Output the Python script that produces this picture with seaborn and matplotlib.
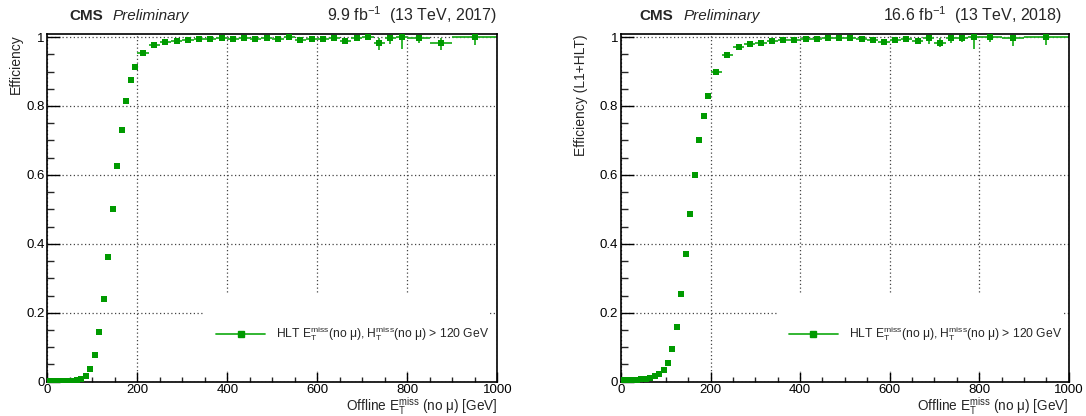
import numpy as np
import pandas as pd
import matplotlib
matplotlib.use("Agg")
import matplotlib.pyplot as plt
from matplotlib.patches import Rectangle
from matplotlib.lines import Line2D
from matplotlib.ticker import MultipleLocator, FuncFormatter
import seaborn as sns

# ---------------- data ----------------
bin_edges = [0, 10, 20, 30, 40, 50, 60, 70, 80, 90, 100, 110, 120, 130, 140, 150,
             160, 170, 180, 190, 200, 225, 250, 275, 300, 325, 350, 375, 400, 425,
             450, 475, 500, 525, 550, 575, 600, 625, 650, 675, 700, 725, 750, 775,
             800, 850, 900, 1000]

eff_2017 = [0.001, 0.001, 0.001, 0.001, 0.002, 0.002, 0.004, 0.008, 0.017, 0.038,
            0.077, 0.144, 0.241, 0.363, 0.501, 0.626, 0.730, 0.814, 0.874, 0.913,
            0.954,
            0.977, 0.985, 0.990, 0.992, 0.994, 0.995, 0.996, 0.993, 0.998, 0.994,
            0.997, 0.993, 0.999, 0.992, 0.994, 0.994, 0.998, 0.990, 0.997, 0.999,
            0.983, 0.998, 0.999,
            0.998, 0.983, 0.999]
errlo_2017 = [0.001, 0.001, 0.001, 0.001, 0.001, 0.001, 0.001, 0.001, 0.002, 0.003,
              0.004, 0.004, 0.005, 0.005, 0.005, 0.005, 0.005, 0.005, 0.004, 0.004,
              0.004,
              0.005, 0.004, 0.004, 0.004, 0.004, 0.004, 0.005, 0.006, 0.004, 0.006,
              0.005, 0.007, 0.004, 0.008, 0.007, 0.008, 0.006, 0.010, 0.008, 0.008,
              0.020, 0.017, 0.035,
              0.014, 0.020, 0.021]
errhi_2017 = [0.001, 0.001, 0.001, 0.001, 0.001, 0.001, 0.001, 0.001, 0.002, 0.003,
              0.004, 0.004, 0.005, 0.005, 0.005, 0.005, 0.005, 0.005, 0.004, 0.004,
              0.004,
              0.004, 0.004, 0.003, 0.003, 0.003, 0.003, 0.003, 0.004, 0.002, 0.004,
              0.003, 0.005, 0.001, 0.006, 0.005, 0.005, 0.002, 0.007, 0.003, 0.001,
              0.015, 0.002, 0.001,
              0.002, 0.015, 0.001]

eff_2018 = [0.005, 0.005, 0.006, 0.006, 0.007, 0.009, 0.012, 0.016, 0.023, 0.034,
            0.055, 0.094, 0.159, 0.255, 0.371, 0.488, 0.601, 0.700, 0.771, 0.830,
            0.898,
            0.948, 0.970, 0.981, 0.984, 0.988, 0.991, 0.991, 0.993, 0.994, 0.996,
            0.997, 0.996, 0.995, 0.991, 0.987, 0.991, 0.993, 0.989, 0.998, 0.984,
            0.998, 0.998, 0.999,
            0.999, 0.998, 0.999]
errlo_2018 = [0.001, 0.001, 0.001, 0.001, 0.001, 0.001, 0.001, 0.002, 0.002, 0.003,
              0.003, 0.004, 0.004, 0.005, 0.005, 0.005, 0.005, 0.005, 0.004, 0.004,
              0.004,
              0.005, 0.004, 0.004, 0.004, 0.004, 0.004, 0.004, 0.005, 0.005, 0.005,
              0.005, 0.005, 0.006, 0.007, 0.008, 0.008, 0.008, 0.009, 0.018, 0.012,
              0.015, 0.012, 0.035,
              0.014, 0.023, 0.023]
errhi_2018 = [0.001, 0.001, 0.001, 0.001, 0.001, 0.001, 0.001, 0.002, 0.002, 0.003,
              0.003, 0.004, 0.004, 0.005, 0.005, 0.005, 0.005, 0.005, 0.004, 0.004,
              0.004,
              0.005, 0.004, 0.004, 0.004, 0.004, 0.003, 0.003, 0.003, 0.003, 0.003,
              0.002, 0.003, 0.003, 0.005, 0.006, 0.005, 0.004, 0.006, 0.002, 0.012,
              0.002, 0.002, 0.001,
              0.001, 0.002, 0.001]

panels = [
    dict(eff=eff_2017, lo=errlo_2017, hi=errhi_2017, lumi="9.9 fb$^{-1}$  (13 TeV, 2017)",
         ylabel="Efficiency", rect=[0.04355, 0.08245, 0.41436, 0.8351],
         cms_x=0.048, pre_x=0.145, lumi_x=1.0, ylab_x=-0.054),
    dict(eff=eff_2018, lo=errlo_2018, hi=errhi_2018, lumi="16.6 fb$^{-1}$  (13 TeV, 2018)",
         ylabel="Efficiency (L1+HLT)", rect=[0.57182, 0.08245, 0.41225, 0.8351],
         cms_x=0.042, pre_x=0.139, lumi_x=0.985, ylab_x=-0.073),
]

legend_label = "HLT E$_{\\mathrm{T}}^{\\mathrm{miss}}$(no \u03bc), H$_{\\mathrm{T}}^{\\mathrm{miss}}$(no \u03bc) > 120 GeV"
xlabel = "Offline E$_{\\mathrm{T}}^{\\mathrm{miss}}$ (no \u03bc) [GeV]"

marker_color = "#009a00"
line_color = "#22b022"

# ---------------- style ----------------
sns.set_theme(style="ticks")
plt.rcParams["font.family"] = ["Liberation Sans", "DejaVu Sans"]
plt.rcParams["mathtext.fontset"] = "custom"
plt.rcParams["mathtext.rm"] = "Liberation Sans"
plt.rcParams["mathtext.it"] = "Liberation Sans:italic"
plt.rcParams["mathtext.bf"] = "Liberation Sans:bold"

fig = plt.figure(figsize=(10.86, 4.16), dpi=100)

edges = np.array(bin_edges, dtype=float)
centers = (edges[:-1] + edges[1:]) / 2
halfw = np.diff(edges) / 2

for p in panels:
    ax = fig.add_axes(p["rect"])
    df = pd.DataFrame({"x": centers, "eff": p["eff"], "lo": p["lo"], "hi": p["hi"], "xw": halfw})

    ax.errorbar(df["x"], df["eff"], xerr=df["xw"], yerr=[df["lo"], df["hi"]],
                fmt="none", ecolor=line_color, elinewidth=1.3, capsize=0, zorder=2)
    sns.scatterplot(data=df, x="x", y="eff", marker="s", color=marker_color, s=20,
                    edgecolor=marker_color, linewidth=0, ax=ax, legend=False, zorder=3)

    ax.set_xlim(0, 1000)
    ax.set_ylim(0, 1.008)
    ax.xaxis.set_major_locator(MultipleLocator(200))
    ax.xaxis.set_minor_locator(MultipleLocator(50))
    ax.yaxis.set_major_locator(MultipleLocator(0.2))
    ax.yaxis.set_minor_locator(MultipleLocator(0.05))
    ax.yaxis.set_major_formatter(FuncFormatter(lambda v, pos: "%g" % round(v, 2)))
    ax.tick_params(axis="x", which="major", direction="in", length=7, width=1.0,
                   labelsize=9.5, pad=2, colors="black")
    ax.tick_params(axis="x", which="minor", direction="in", length=3.6, width=1.0)
    ax.tick_params(axis="y", which="major", direction="in", length=9.5, width=1.0,
                   labelsize=9.5, pad=2, colors="black")
    ax.tick_params(axis="y", which="minor", direction="in", length=4.7, width=1.0)
    for s in ax.spines.values():
        s.set_visible(True)
        s.set_linewidth(1.2)
        s.set_color("black")

    ax.set_axisbelow(True)
    ax.grid(True, which="major", linestyle=(0, (1, 2)), color="#444444", linewidth=0.9)

    # white legend box hiding grid lines (TLegend fill)
    ax.add_patch(Rectangle((0.35, 0.03), 0.634, 0.224, transform=ax.transAxes,
                           facecolor="white", edgecolor="none", zorder=1))

    handle = Line2D([], [], color=line_color, lw=1.3, marker="s", markersize=4.5,
                    markerfacecolor=marker_color, markeredgecolor=marker_color)
    ax.legend([handle], [legend_label], loc="center left", bbox_to_anchor=(0.376, 0.137),
              frameon=False, fontsize=8.7, handlelength=4.0, handletextpad=0.95,
              borderpad=0, borderaxespad=0)

    ax.set_xlabel(xlabel, fontsize=9.8, loc="right")
    ax.xaxis.set_label_coords(1.0, -0.039)
    ax.set_ylabel(p["ylabel"], fontsize=10, loc="top")
    ax.yaxis.set_label_coords(p["ylab_x"], 1.0)

    ax.text(p["cms_x"], 1.041, "CMS", transform=ax.transAxes, fontsize=11,
            fontweight="bold", ha="left", va="baseline")
    ax.text(p["pre_x"], 1.041, "Preliminary", transform=ax.transAxes, fontsize=11,
            fontstyle="italic", ha="left", va="baseline")
    ax.text(p["lumi_x"], 1.039, p["lumi"], transform=ax.transAxes, fontsize=11.5,
            ha="right", va="baseline")

fig.savefig("out.png", dpi=100)
